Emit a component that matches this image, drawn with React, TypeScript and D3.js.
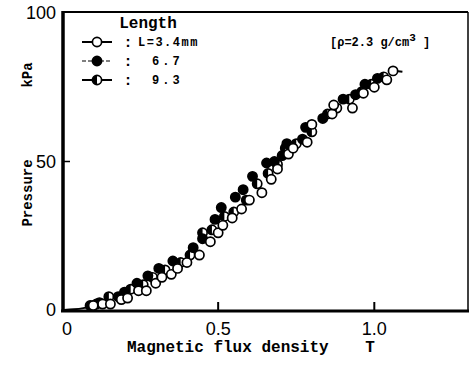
import * as d3 from "d3";

// Magnetic flux density B (T) vs pressure P (kPa)
const openB = [0.10, 0.13, 0.155, 0.19, 0.21, 0.245, 0.27, 0.30, 0.32, 0.35, 0.37, 0.40, 0.44, 0.475, 0.50, 0.515, 0.545, 0.575, 0.60, 0.64, 0.67, 0.69, 0.725, 0.74, 0.785, 0.80, 0.865, 0.87, 0.93, 0.965, 1.00, 1.04, 1.06];
const openP = [1.5, 2, 2, 3.5, 4, 6.5, 6.5, 9, 11, 12, 14, 16, 18.5, 23, 26, 28.5, 31, 34, 37, 39.5, 44, 47.5, 52.5, 54.5, 56.5, 62.5, 66, 69, 68, 73, 75, 77.5, 80.5];

const filledB = [0.09, 0.12, 0.18, 0.20, 0.24, 0.275, 0.31, 0.355, 0.42, 0.45, 0.49, 0.51, 0.555, 0.58, 0.61, 0.655, 0.68, 0.705, 0.72, 0.77, 0.78, 0.835, 0.90, 0.94, 0.97, 1.01];
const filledP = [1.5, 2.5, 4.5, 6, 9, 11.5, 14, 16.5, 21, 24, 30.5, 34.5, 38, 40.5, 45, 49.5, 50, 52, 56, 57.5, 61.5, 64.5, 71, 72.5, 76, 78];

const halfB = [0.11, 0.15, 0.22, 0.26, 0.29, 0.33, 0.38, 0.41, 0.45, 0.48, 0.52, 0.55, 0.59, 0.625, 0.66, 0.69, 0.715, 0.75, 0.80, 0.85, 0.88, 0.92, 0.96, 0.99, 1.03];
const halfP = [2, 4.5, 7, 8.5, 11, 13.5, 16, 18.5, 26, 27, 31.5, 33, 37, 42.5, 46, 49, 54.5, 56, 60, 66, 68, 71, 73.5, 76, 78.5];

// short drawn lines at both ends of the data
const leadIn: [number, number][] = [[0, 0], [0.04, 0.2], [0.07, 0.6], [0.09, 1.2]];
const tail: [number, number][] = [[1.07, 80.5], [1.09, 80.2]];

const xTicks = [0, 0.5, 1.0];
const xTickLabels = ["0", "0.5", "1.0"];
const yTicks = [0, 50, 100];
const legendLabels = ["L=3.4mm", "6.7", "9.3"];

const mono = "'Liberation Mono', 'DejaVu Sans Mono', monospace";
const sans = "'Liberation Sans', 'DejaVu Sans', sans-serif";

export default function App() {
  const width = 470, height = 369;
  const x = d3.scaleLinear([0, 1.3], [62, 468]);
  const y = d3.scaleLinear([0, 100], [310, 13]);
  const line = d3.line<[number, number]>(d => x(d[0]), d => y(d[1])).curve(d3.curveBasis);
  const r = 4.6;

  const marker = (kind: string, cx: number, cy: number, key: any) => {
    if (kind === "open")
      return <circle key={key} cx={cx} cy={cy} r={r} fill="white" stroke="black" strokeWidth={1.7} />;
    if (kind === "filled")
      return <circle key={key} cx={cx} cy={cy} r={r} fill="black" stroke="black" strokeWidth={1.7} />;
    return (
      <g key={key} transform={`translate(${cx},${cy})`}>
        <circle r={r} fill="white" stroke="black" strokeWidth={1.7} />
        <path d={`M0,${-r}A${r},${r} 0 0 0 0,${r}Z`} fill="black" />
      </g>
    );
  };

  const legendY = [42, 61, 80];
  const legendKinds = ["open", "filled", "half"];

  return (
    <svg width={width} height={height} style={{ position: "absolute", left: 0, top: 0, background: "white" }}>
      {/* frame */}
      <line x1={62} x2={468} y1={12} y2={12} stroke="black" strokeWidth={2} />
      <line x1={468} x2={468} y1={12} y2={311} stroke="black" strokeWidth={1.5} />
      <line x1={63} x2={63} y1={11} y2={312} stroke="black" strokeWidth={3.5} />
      <line x1={61} x2={469} y1={311} y2={311} stroke="black" strokeWidth={3} />

      {/* ticks */}
      {xTicks.slice(1).map(t => (
        <line key={t} x1={x(t)} x2={x(t)} y1={311} y2={302} stroke="black" strokeWidth={2} />
      ))}
      {yTicks.slice(1, 2).map(t => (
        <line key={t} x1={63} x2={70} y1={y(t)} y2={y(t)} stroke="black" strokeWidth={1.5} />
      ))}

      {/* tick labels */}
      {xTicks.map((t, i) => (
        <text key={t} x={x(t) + (i === 0 ? 5 : 0)} y={335} textAnchor="middle" fontFamily={sans} fontSize={18} fontWeight={300}>
          {xTickLabels[i]}
        </text>
      ))}
      {yTicks.map(t => (
        <text key={t} x={56} y={y(t) + 6} textAnchor="end" fontFamily={sans} fontSize={18} fontWeight={300}>
          {t}
        </text>
      ))}

      {/* axis titles */}
      <text x={127} y={352} fontFamily={mono} fontSize={16} fontWeight="bold">Magnetic flux density</text>
      <text x={370} y={352} textAnchor="middle" fontFamily={mono} fontSize={16} fontWeight="bold">T</text>
      <text transform="translate(32,193) rotate(-90)" textAnchor="middle" fontFamily={mono} fontSize={14} fontWeight="bold">Pressure</text>
      <text transform="translate(32,75) rotate(-90)" textAnchor="middle" fontFamily={mono} fontSize={14} fontWeight="bold">kPa</text>

      {/* curve ends */}
      <path d={line(leadIn) ?? ""} fill="none" stroke="black" strokeWidth={2} />
      <path d={line(tail) ?? ""} fill="none" stroke="black" strokeWidth={2} />

      {/* data */}
      {halfB.map((b, i) => marker("half", x(b), y(halfP[i]), "h" + i))}
      {filledB.map((b, i) => marker("filled", x(b), y(filledP[i]), "f" + i))}
      {openB.map((b, i) => marker("open", x(b), y(openP[i]), "o" + i))}

      {/* legend */}
      <text x={148} y={28} textAnchor="middle" fontFamily={mono} fontSize={16} fontWeight="bold">Length</text>
      {legendKinds.map((k, i) => (
        <g key={k}>
          <line x1={82} x2={112} y1={legendY[i]} y2={legendY[i]} stroke="black"
            strokeWidth={k === "filled" ? 1.2 : 2} strokeDasharray={k === "filled" ? "4,2" : undefined} />
          {marker(k, 97, legendY[i], "l" + i)}
          <text x={128} y={legendY[i] + 5} textAnchor="middle" fontFamily={mono} fontSize={15} fontWeight="bold">:</text>
          <text x={i === 0 ? 138 : 152} y={legendY[i] + 4} fontFamily={mono} fontSize={12} fontWeight="bold" letterSpacing={i === 0 ? 1.5 : 3}>
            {legendLabels[i]}
          </text>
        </g>
      ))}
      <text x={330} y={46} fontFamily={mono} fontSize={12} fontWeight="bold">
        [ρ=2.3 g/cm<tspan dy={-5} fontSize={11}>3</tspan><tspan dy={5}> ]</tspan>
      </text>
    </svg>
  );
}
